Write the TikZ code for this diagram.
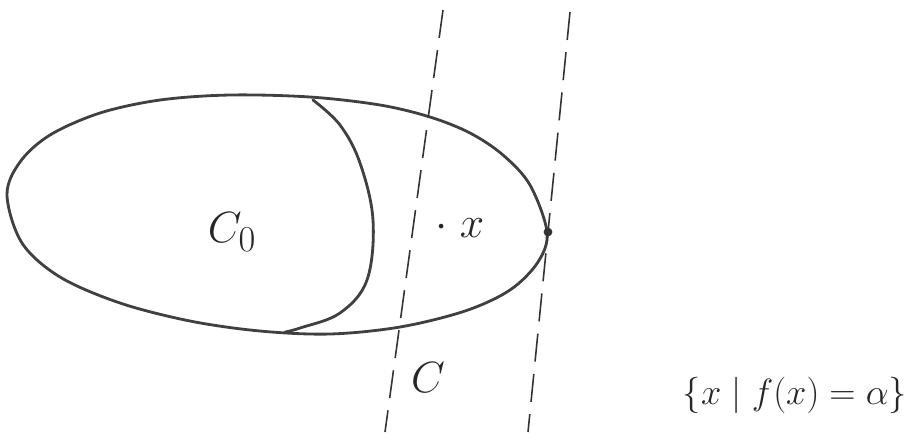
\documentclass[tikz,border=0pt]{standalone}
\usepackage{amsmath,amssymb}
\usepackage{xcolor}
\usepackage{tikz}
\usetikzlibrary{calc,positioning}

\begin{document}
\begin{tikzpicture}[x=0.02cm, y=-0.02cm,
  pencil/.style={draw=black!75, line width=1.6pt, line join=round, line cap=round},
  cutline/.style={draw=black!80, line width=0.9pt, dash pattern=on 16pt off 7pt},
  hand/.style={text=black!85, inner sep=0pt}
]
\useasboundingbox (0,0) rectangle (913,441);

\draw[pencil] plot[smooth cycle, tension=0.55] coordinates {(7,195) (20,162) (50,135) (100,113) (160,100) (230,95) (310,97) (380,105) (430,117) (470,133) (503,155) (530,185) (547,232) (538,262) (510,290) (465,311) (400,327) (330,334) (260,331) (190,321) (120,303) (60,277) (22,243)};
\draw[pencil] plot[smooth, tension=0.6] coordinates {(313,100) (340,125) (360,163) (373,220) (367,280) (340,313) (300,328) (285,332)};

\coordinate (atop) at (443,10);
\coordinate (abot) at (385,432);
\coordinate (btop) at (570,12);
\coordinate (bbot) at (528,432);
\draw[cutline] (atop) -- (abot);
\draw[cutline] (btop) -- (bbot);
\fill[black!80] (548,232) circle (2.5pt);

\node[hand, font=\fontsize{40}{42}\selectfont] (czero) at (232,232) {$C_{\scriptscriptstyle 0}$};
\node[hand, font=\fontsize{24}{26}\selectfont] (xpt) at (460,228) {$\cdot\;x$};
\node[hand, font=\fontsize{36}{38}\selectfont] (clabel) at (428,378) {$C$};
\node[hand, font=\fontsize{21}{24}\selectfont] (levelset) at (795,395) {$\{x \mid f(x)=\alpha\}$};

\end{tikzpicture}
\end{document}
